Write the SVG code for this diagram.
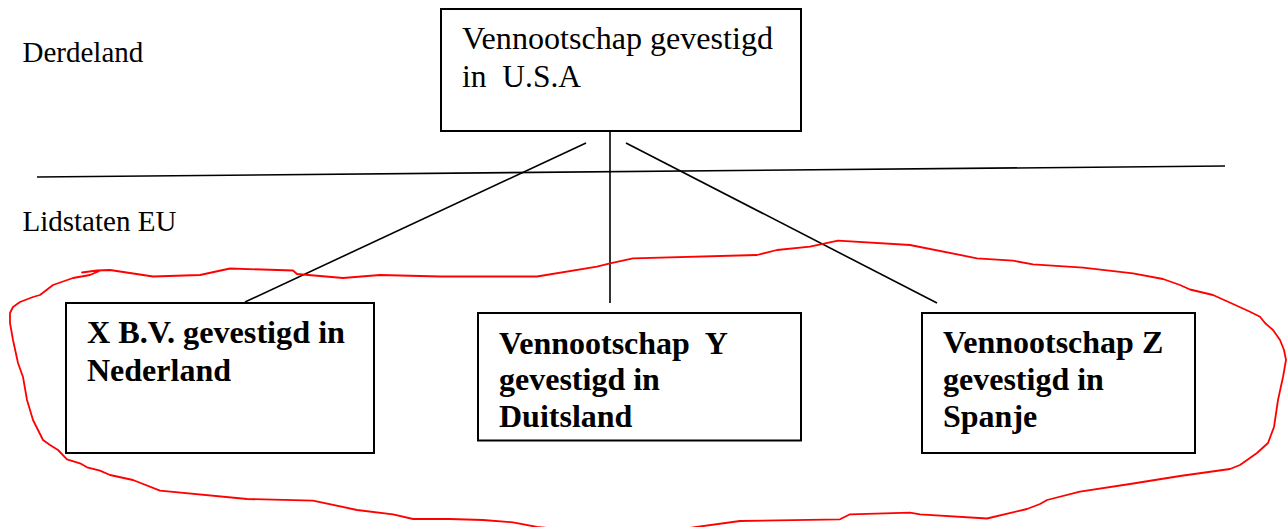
<svg xmlns="http://www.w3.org/2000/svg" width="1287" height="527" viewBox="0 0 1287 527">
  <style>
    .box { fill: #ffffff; stroke: #000000; stroke-width: 2; }
    .line { stroke: #000000; stroke-width: 1.6; fill: none; }
    .label { font-family: "Liberation Serif", "Times New Roman", serif; font-size: 29px; fill: #000000; }
    .reg { font-family: "Liberation Serif", "Times New Roman", serif; font-size: 31.5px; fill: #000000; }
    .bold { font-family: "Liberation Serif", "Times New Roman", serif; font-weight: bold; font-size: 32px; fill: #000000; }
    .loop { fill: none; stroke: #ff0000; stroke-width: 1.8; stroke-linejoin: round; stroke-linecap: round; }
  </style>
  <rect width="1287" height="527" fill="#ffffff"/>

  <!-- region labels -->
  <text class="label" x="22.5" y="61.5">Derdeland</text>
  <text class="label" x="22.5" y="230.5">Lidstaten EU</text>

  <!-- boundary between third country and EU member states -->
  <line class="line" x1="37" y1="177" x2="1225" y2="166"/>

  <!-- connectors -->
  <g id="connectors">
    <line class="line" x1="586" y1="143" x2="245" y2="302"/>
    <line class="line" x1="610" y1="131" x2="610" y2="303"/>
    <line class="line" x1="626" y1="143" x2="937" y2="303"/>
  </g>

  <!-- parent company -->
  <g id="usa">
    <rect class="box" x="441" y="9" width="360" height="122"/>
    <text class="reg" x="462" y="48.5" textLength="311" lengthAdjust="spacingAndGlyphs">Vennootschap gevestigd</text>
    <text class="reg" x="462" y="87" xml:space="preserve">in  U.S.A</text>
  </g>

  <!-- subsidiaries -->
  <g id="nl">
    <rect class="box" x="66" y="303" width="308" height="150"/>
    <text class="bold" x="87" y="342.5" textLength="258" lengthAdjust="spacingAndGlyphs">X B.V. gevestigd in</text>
    <text class="bold" x="87" y="380.5">Nederland</text>
  </g>
  <g id="de">
    <rect class="box" x="478" y="313" width="323" height="127.5"/>
    <text class="bold" x="499" y="353.5" xml:space="preserve">Vennootschap  Y</text>
    <text class="bold" x="499" y="390">gevestigd in</text>
    <text class="bold" x="499" y="426.5">Duitsland</text>
  </g>
  <g id="es">
    <rect class="box" x="922" y="313" width="273" height="140"/>
    <text class="bold" x="943" y="353">Vennootschap Z</text>
    <text class="bold" x="943" y="390">gevestigd in</text>
    <text class="bold" x="943" y="426.5">Spanje</text>
  </g>

  <!-- hand-drawn loop around the EU companies -->
  <path class="loop" d="M82,272.5 L97,270.5 L110,270 L153,276.5 L200,275 L230,268.5 L293,270.5 L297,274 L343,278 L380,275 L440,276.5 L537,276.5 L597,266.7 L610,263.3 L633,258.3 L757,255 L777,250 L810,246.7 L838,240.7 L910,245 L977,258.3 L1013,260.7 L1033,264.3 L1083,267.7 L1133,273.3 L1163,279 L1180,285 L1190,289.5 L1213,295 L1233,304 L1250,311.7 L1260,316.7 L1265,323 L1273,330 L1280,340 L1284,350 L1286,360 L1283,377 L1278,400 L1274,427 L1268,443 L1257,453 L1240,465 L1230,469 L1180,476 L1130,484 L1080,491.7 L1047,500 L1040,504 L1027,509 L987,518.5 L920,514.3 L910,512.7 L850,514.3 L840,519.3 L740,521 L693,527.5 L660,531 L580,531 L537,527 L513,522.3 L483,520 L450,519 L413,519 L393,514.3 L357,510 L313,500.7 L247,499 L160,490.7 L133,480 L110,475 L100,470.7 L87,467.3 L80,463.3 L67,459.3 L58,450 L50,445 L43,440 L33,420 L27,400 L23,377 L18,363 L13,340 L10,323 L10,313 L13,307 L20,302 L33,297 L40,295 L53,285 L73,278 L90,275 L100,270.7"/>
</svg>
